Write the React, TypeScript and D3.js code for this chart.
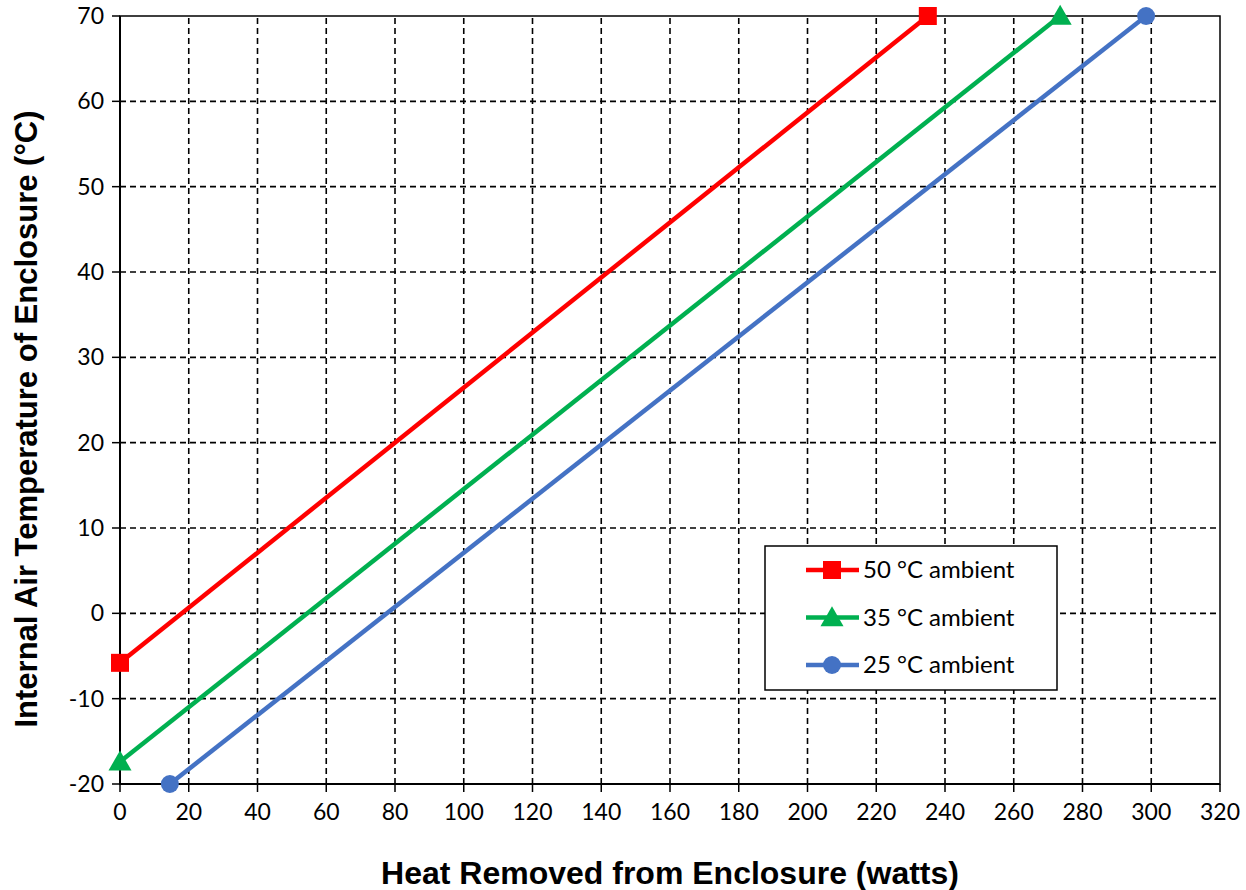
import * as d3 from "d3"

const xTicks = [0, 20, 40, 60, 80, 100, 120, 140, 160, 180, 200, 220, 240, 260, 280, 300, 320]
const yTicks = [-20, -10, 0, 10, 20, 30, 40, 50, 60, 70]

const series = [
  { name: "50 °C ambient", color: "#ff0000", marker: "square", x: [0, 235], y: [-5.8, 70] },
  { name: "35 °C ambient", color: "#00b050", marker: "triangle", x: [0, 273.5], y: [-17.4, 70] },
  { name: "25 °C ambient", color: "#4472c4", marker: "circle", x: [14.5, 298.5], y: [-20, 70] },
]

const width = 1246
const height = 890
const margin = { top: 16, right: 26, bottom: 106, left: 120 }

function Marker({ type, cx, cy, color }) {
  if (type === "square") return <rect x={cx - 9} y={cy - 9} width={18} height={18} fill={color} />
  if (type === "triangle") {
    const p = d3.symbol(d3.symbolTriangle, 230)()
    return <path d={p} transform={`translate(${cx},${cy + 2})`} fill={color} />
  }
  return <circle cx={cx} cy={cy} r={9} fill={color} />
}

export default function App() {
  const x = d3.scaleLinear().domain([0, 320]).range([margin.left, width - margin.right])
  const y = d3.scaleLinear().domain([-20, 70]).range([height - margin.bottom, margin.top])
  const line = d3.line<[number, number]>().x(d => x(d[0])).y(d => y(d[1]))
  const tickFont = "Lato, 'Open Sans', sans-serif"
  const titleFont = "'Liberation Sans', Arial, sans-serif"

  const [x0, x1] = x.range()
  const [y0, y1] = y.range()

  return (
    <svg width={width} height={height} style={{ position: "absolute", left: 0, top: 0, background: "#fff" }}>
      {/* grid */}
      <g stroke="#000" strokeWidth={1.6} strokeDasharray="6,4">
        {xTicks.filter(t => t > 0 && t < 320).map(t => (
          <line key={"gx" + t} x1={x(t)} x2={x(t)} y1={y0} y2={y1} />
        ))}
        {yTicks.filter(t => t > -20 && t < 70).map(t => (
          <line key={"gy" + t} x1={x0} x2={x1} y1={y(t)} y2={y(t)} />
        ))}
      </g>
      {/* plot border */}
      <rect x={x0} y={y1} width={x1 - x0} height={y0 - y1} fill="none" stroke="#000" strokeWidth={1.5} />
      <line x1={x0} x2={x0} y1={y1} y2={y0 + 1} stroke="#000" strokeWidth={2} />
      <line x1={x0} x2={x1} y1={y0} y2={y0} stroke="#000" strokeWidth={2} />
      {/* ticks */}
      <g stroke="#000" strokeWidth={1.5}>
        {xTicks.map(t => (
          <line key={"tx" + t} x1={x(t)} x2={x(t)} y1={y0} y2={y0 + 8} />
        ))}
        {yTicks.map(t => (
          <line key={"ty" + t} x1={x0 - 8} x2={x0} y1={y(t)} y2={y(t)} />
        ))}
      </g>
      <g fontFamily={tickFont} fontSize={23} fill="#000">
        {xTicks.map(t => (
          <text key={"lx" + t} x={x(t)} y={y0 + 36} textAnchor="middle">{t}</text>
        ))}
        {yTicks.map(t => (
          <text key={"ly" + t} x={x0 - 16} y={y(t) + 8} textAnchor="end">{t}</text>
        ))}
      </g>
      {/* series */}
      {series.map(s => {
        const pts = s.x.map((v, i) => [v, s.y[i]] as [number, number])
        return (
          <g key={s.name}>
            <path d={line(pts)} fill="none" stroke={s.color} strokeWidth={4.5} />
            {pts.map((p, i) => (
              <Marker key={i} type={s.marker} cx={x(p[0])} cy={y(p[1])} color={s.color} />
            ))}
          </g>
        )
      })}
      {/* legend */}
      <g>
        <rect x={765} y={546} width={292} height={144} fill="#fff" stroke="#000" strokeWidth={1.5} />
        {series.map((s, i) => {
          const ly = 570 + i * 47.5
          return (
            <g key={"lg" + s.name}>
              <line x1={806} x2={859} y1={ly} y2={ly} stroke={s.color} strokeWidth={4.5} />
              <Marker type={s.marker} cx={832} cy={ly} color={s.color} />
              <text x={863} y={ly + 8} fontFamily={tickFont} fontSize={24} fill="#000">{s.name}</text>
            </g>
          )
        })}
      </g>
      {/* axis titles */}
      <text x={670} y={884} textAnchor="middle" fontFamily={titleFont}
        fontWeight="bold" fontSize={32} fill="#000">Heat Removed from Enclosure (watts)</text>
      <text transform={`translate(37,419) rotate(-90)`} textAnchor="middle"
        fontFamily={titleFont} fontWeight="bold" fontSize={31} fill="#000">
        Internal Air Temperature of Enclosure (°C)
      </text>
    </svg>
  )
}
